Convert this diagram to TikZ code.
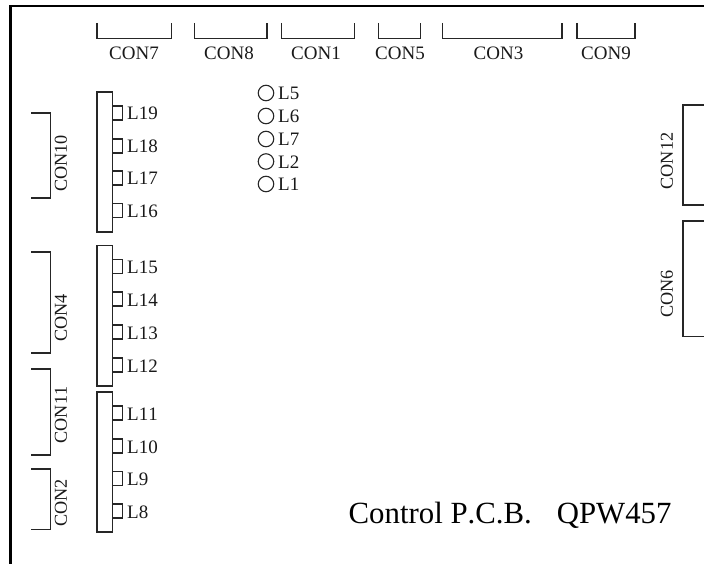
\documentclass[tikz,border=0pt]{standalone}
\usepackage{fontspec}
\setmainfont[Kerning=Off]{Liberation Serif}
\tikzset{
  lbl/.style={inner sep=0pt,font=\fontsize{19}{19}\selectfont,text=black!90},
  led/.style={lbl,anchor=base west},
  con/.style={lbl,anchor=center},
  vcon/.style={lbl,anchor=center,rotate=90,font=\fontsize{18.2}{19}\selectfont},
  brk/.style={draw=black!85,line width=1.1pt},
  frame/.style={draw=black,line width=2.3pt},
  rack/.style={draw=black!85,line width=1.1pt,fill=white},
  title/.style={inner sep=0pt,anchor=base west,font=\fontsize{30.8}{31}\selectfont}
}
\begin{document}
\begin{tikzpicture}[x=1pt,y=-1pt]
\useasboundingbox (0,0) rectangle (704,564);
\draw[frame] (10.5,564) -- (10.5,6) -- (704,6);
% top connectors
\foreach \a/\b/\t/\c in {97/171.5/CON7/134,194.5/267/CON8/229,281.5/354.5/CON1/316,378.5/420.5/CON5/400,442.5/562/CON3/498.5,577/635/CON9/606}{
  \draw[brk] (\a,23) -- (\a,38.5) -- (\b,38.5) -- (\b,23);
  \node[con] (\t) at (\c,53) {\t};
}
% left connectors
\foreach \a/\b/\t/\c in {113/198/CON10/163.5,252/353/CON4/318,369/455/CON11/415,469/529.5/CON2/503}{
  \draw[brk] (31,\a) -- (50.5,\a) -- (50.5,\b) -- (31,\b);
  \node[vcon] (\t) at (61,\c) {\t};
}
% right connectors
\foreach \a/\b/\t/\c in {105/205/CON12/161,221/336.5/CON6/294}{
  \draw[brk] (704,\a) -- (683,\a) -- (683,\b) -- (704,\b);
  \node[vcon] (\t) at (667,\c) {\t};
}
% LED bars
\foreach \a/\b/\t in {92/232/barA,245.5/386/barB,392/532/barC}{
  \path[rack] (97,\a) rectangle (112.5,\b);
  \coordinate (\t) at (104.75,\a);
}
\foreach \a/\t in {106/L19,139/L18,171/L17,203.5/L16,259.5/L15,292/L14,325/L13,358/L12,406/L11,439/L10,471.5/L9,504/L8}{
  \draw[brk] (112.5,\a) -- (122.5,\a) -- (122.5,\a+14) -- (112.5,\a+14);
  \node[led] (\t) at (127,\a+14) {\t};
}
% round LEDs
\foreach \y/\t in {93/L5,116/L6,139/L7,161.5/L2,184/L1}{
  \node[draw=black!85,line width=1.1pt,circle,minimum size=15.5pt,inner sep=0pt] (c\t) at (266,\y) {};
  \node[led] (\t) at (278,\y+7) {\t};
}
\node[title] (ttl) at (348.5,523) {Control P.C.B.\hspace{25pt}QPW457};
\end{tikzpicture}
\end{document}
